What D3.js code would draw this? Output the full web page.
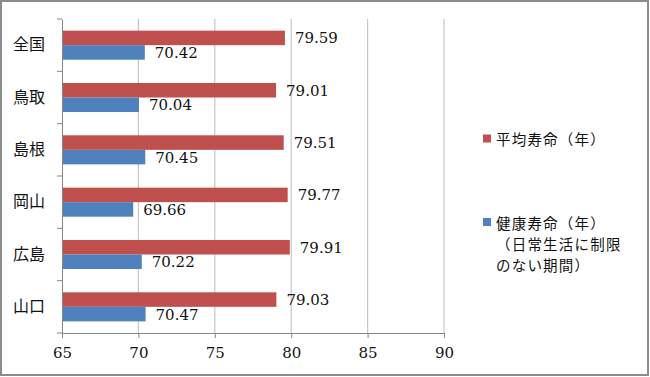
<!DOCTYPE html>
<html>
<head>
<meta charset="utf-8">
<script src="https://cdn.jsdelivr.net/npm/d3@7"></script>
<style>
  body { margin: 0; background: #fff; }
  svg { display: block; }
  .num { font-family: "DejaVu Serif", serif; }
  .cjk { font-family: "Noto Sans CJK JP", sans-serif; }
</style>
</head>
<body>
<svg id="chart" width="650" height="377"></svg>
<script>
var prefectures = ["全国", "鳥取", "島根", "岡山", "広島", "山口"];
var lifeExpectancy = [79.59, 79.01, 79.51, 79.77, 79.91, 79.03];
var healthyLife = [70.42, 70.04, 70.45, 69.66, 70.22, 70.47];
var xTicks = [65, 70, 75, 80, 85, 90];
var seriesNames = ["平均寿命（年）", "健康寿命（年）"];
var healthyNote = ["（日常生活に制限", "のない期間）"];

var red = "#c0504d";
var blue = "#4f81bd";

var svg = d3.select("#chart");

// outer frame
svg.append("rect")
  .attr("x", 1).attr("y", 1)
  .attr("width", 647).attr("height", 374)
  .attr("fill", "#fff")
  .attr("stroke", "#8c8c8c")
  .attr("stroke-width", 2);

var x = d3.scaleLinear().domain([65, 90]).range([62, 444]);
var y = d3.scaleBand().domain(prefectures).range([19, 333])
          .paddingInner(0.445).paddingOuter(0.2225);
var inner = d3.scaleBand().domain([0, 1]).range([0, y.bandwidth()]);

// gridlines
svg.append("g").selectAll("line")
  .data(xTicks.slice(1))
  .enter().append("line")
  .attr("x1", function(d) { return x(d); })
  .attr("x2", function(d) { return x(d); })
  .attr("y1", 19).attr("y2", 333)
  .attr("stroke", "#c6c6c6")
  .attr("stroke-width", 1.2);

// bars
var rows = prefectures.map(function(p, i) {
  return {name: p, vals: [lifeExpectancy[i], healthyLife[i]]};
});

var row = svg.append("g").selectAll("g")
  .data(rows)
  .enter().append("g")
  .attr("transform", function(d) { return "translate(0," + y(d.name) + ")"; });

row.selectAll("rect")
  .data(function(d) { return d.vals; })
  .enter().append("rect")
  .attr("x", x(65))
  .attr("y", function(d, i) { return inner(i); })
  .attr("width", function(d) { return x(d) - x(65); })
  .attr("height", inner.bandwidth())
  .attr("fill", function(d, i) { return i === 0 ? red : blue; });

row.selectAll("text")
  .data(function(d) { return d.vals; })
  .enter().append("text")
  .attr("class", "num")
  .attr("x", function(d) { return x(d) + 10; })
  .attr("y", function(d, i) { return inner(i) + inner.bandwidth() / 2 + 0.5; })
  .attr("dominant-baseline", "central")
  .style("font-size", "15px")
  .attr("fill", "#111")
  .text(function(d) { return d.toFixed(2); });

// axes
var xAxis = svg.append("g")
  .attr("transform", "translate(0,333)")
  .call(d3.axisBottom(x).tickValues(xTicks).tickSize(5).tickPadding(9));
xAxis.attr("font-family", null).attr("font-size", null);
xAxis.select(".domain").attr("stroke", "#868686");
xAxis.selectAll(".tick line").attr("stroke", "#868686");
xAxis.selectAll(".tick text")
  .attr("class", "num")
  .style("font-size", "15px")
  .attr("fill", "#111");

var yAxis = svg.append("g")
  .attr("transform", "translate(62,0)")
  .call(d3.axisLeft(y).tickSize(0).tickPadding(17));
yAxis.attr("font-family", null).attr("font-size", null);
yAxis.select(".domain").attr("stroke", "#868686");
yAxis.selectAll(".tick text")
  .attr("class", "cjk")
  .style("font-size", "16px")
  .attr("fill", "#111");

// category boundary ticks
svg.append("g").selectAll("line")
  .data(d3.range(prefectures.length + 1))
  .enter().append("line")
  .attr("x1", 57).attr("x2", 62)
  .attr("y1", function(i) { return 19 + i * y.step(); })
  .attr("y2", function(i) { return 19 + i * y.step(); })
  .attr("stroke", "#868686");

// legend
var legend = svg.append("g").attr("class", "cjk")
  .style("font-size", "14.5px").style("letter-spacing", "1.2px").attr("fill", "#111");
var legendY = [138.5, 222];
seriesNames.forEach(function(name, i) {
  legend.append("rect")
    .attr("x", 483).attr("y", legendY[i] - 4)
    .attr("width", 8).attr("height", 8)
    .attr("fill", i === 0 ? red : blue);
  legend.append("text")
    .attr("x", 496).attr("y", legendY[i])
    .attr("dominant-baseline", "central")
    .text(name);
});
healthyNote.forEach(function(line, i) {
  legend.append("text")
    .attr("x", 496).attr("y", 243.2 + i * 21.2)
    .attr("dominant-baseline", "central")
    .text(line);
});
</script>
</body>
</html>
